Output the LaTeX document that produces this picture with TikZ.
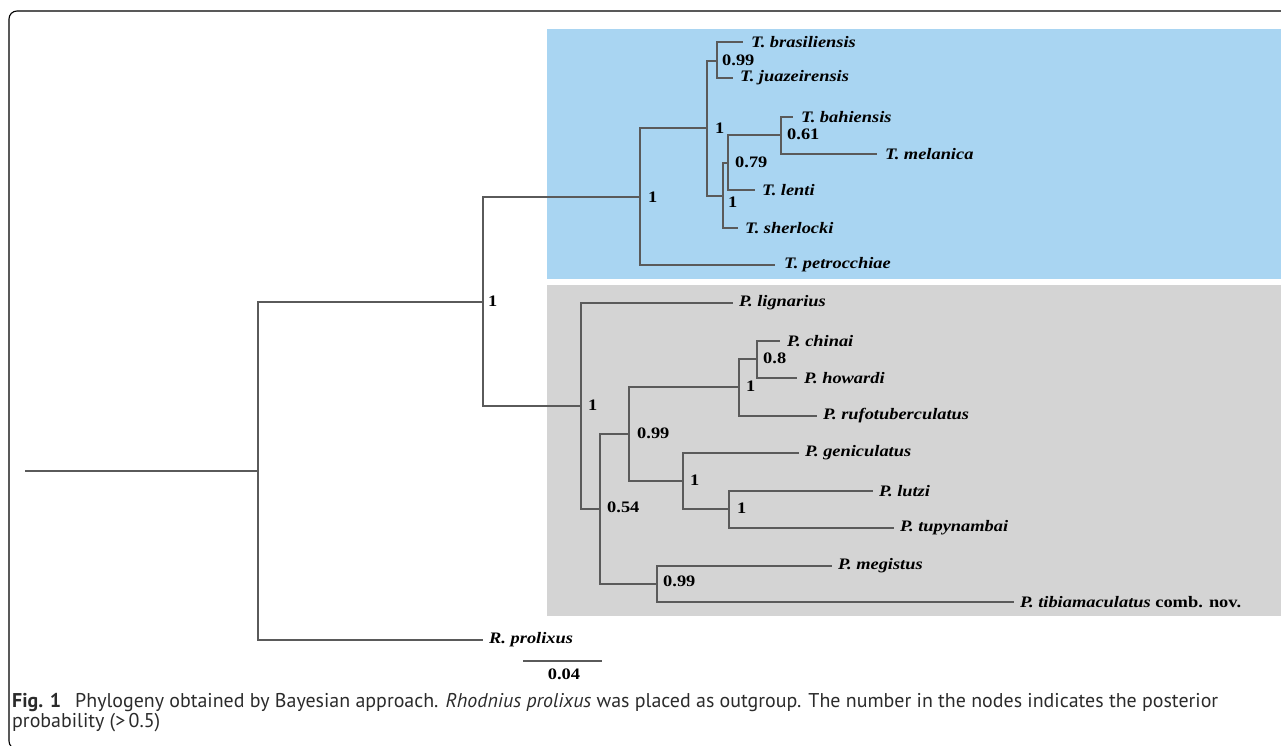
\documentclass[tikz,border=0pt]{standalone}
\usepackage{fontspec}
\setmainfont{Liberation Serif}
\newfontfamily\capfont{PT Sans}
\usepackage{graphicx}
\definecolor{cladeblue}{HTML}{A9D5F2}
\definecolor{cladegray}{HTML}{D4D4D4}
\definecolor{branch}{HTML}{5A5A5A}
\definecolor{captext}{HTML}{2B2B2B}
\newcommand\wide[1]{\scalebox{1.15}[1]{#1}}
\newlength\capw
\newcommand\captextone{\textbf{Fig. 1}\hspace{0.7em}Phylogeny obtained by Bayesian approach. \textit{Rhodnius prolixus} was placed as outgroup. The number in the nodes indicates the posterior}
\tikzset{
  branchline/.style={draw=branch, line width=1.2pt},
  taxon/.style={anchor=west, inner sep=0pt, font=\fontsize{16}{18}\selectfont\bfseries\itshape, text=black},
  support/.style={anchor=west, inner sep=0pt, font=\fontsize{16}{18}\selectfont\bfseries, text=black},
  captionline/.style={anchor=base west, inner sep=0pt, text=captext},
  framebox/.style={draw=black, line width=1.1pt, rounded corners=8pt},
}
\AtBeginDocument{%
  \settowidth\capw{\capfont\fontsize{10}{12}\selectfont\captextone}%
  \pgfmathsetmacro\capsize{10*1206/\capw}%
  \xdef\capsize{\capsize}%
}
\begin{document}
\begin{tikzpicture}[x=1pt,y=-1pt]
\useasboundingbox (0,0) rectangle (1281,745);
\clip (0,0) rectangle (1281,745);

% clade backgrounds
\fill[cladeblue] (547,29) rectangle (1282,279);
\fill[cladegray] (547,285) rectangle (1282,616);

% frame
\draw[framebox] (1285,11) -- (9,11) -- (9,749) -- (30,749);

% internal nodes
\coordinate (root0) at (25,471);
\coordinate (R) at (258,471);
\coordinate (I) at (483,302);
\coordinate (T) at (640,197);
\coordinate (T1) at (707,128);
\coordinate (Tb) at (717,61);
\coordinate (T2) at (723,196);
\coordinate (T3) at (728,163);
\coordinate (T4) at (781,135);
\coordinate (P) at (581,406);
\coordinate (P1) at (600,509);
\coordinate (P2) at (629,434);
\coordinate (P3) at (739,387);
\coordinate (P4) at (757,359);
\coordinate (P5) at (683,481);
\coordinate (P6) at (729,509);
\coordinate (P7) at (657,584);
% tips
\coordinate (bra) at (743,42);
\coordinate (jua) at (733,78);
\coordinate (bah) at (793,117);
\coordinate (mel) at (877,154);
\coordinate (len) at (755,190);
\coordinate (she) at (738,228);
\coordinate (pet) at (775,265);
\coordinate (lig) at (733,303);
\coordinate (chi) at (780,341);
\coordinate (how) at (797,378);
\coordinate (ruf) at (817,416);
\coordinate (gen) at (799,453);
\coordinate (lut) at (873,491);
\coordinate (tup) at (894,528);
\coordinate (meg) at (832,566);
\coordinate (tib) at (1014,602);
\coordinate (pro) at (483,640);

% branches
\draw[branchline] (root0) -- (R);
\draw[branchline] (R) |- (I);
\draw[branchline] (R) |- (pro);
\draw[branchline] (I) |- (T);
\draw[branchline] (I) |- (P);
\draw[branchline] (T) |- (T1);
\draw[branchline] (T) |- (pet);
\draw[branchline] (T1) |- (Tb);
\draw[branchline] (T1) |- (T2);
\draw[branchline] (Tb) |- (bra);
\draw[branchline] (Tb) |- (jua);
\draw[branchline] (T2) |- (T3);
\draw[branchline] (T2) |- (she);
\draw[branchline] (T3) |- (T4);
\draw[branchline] (T3) |- (len);
\draw[branchline] (T4) |- (bah);
\draw[branchline] (T4) |- (mel);
\draw[branchline] (P) |- (lig);
\draw[branchline] (P) |- (P1);
\draw[branchline] (P1) |- (P2);
\draw[branchline] (P1) |- (P7);
\draw[branchline] (P2) |- (P3);
\draw[branchline] (P2) |- (P5);
\draw[branchline] (P3) |- (P4);
\draw[branchline] (P3) |- (ruf);
\draw[branchline] (P4) |- (chi);
\draw[branchline] (P4) |- (how);
\draw[branchline] (P5) |- (gen);
\draw[branchline] (P5) |- (P6);
\draw[branchline] (P6) |- (lut);
\draw[branchline] (P6) |- (tup);
\draw[branchline] (P7) |- (meg);
\draw[branchline] (P7) |- (tib);

% taxon labels
\node[taxon] (lbra) at ([xshift=8pt]bra) {\wide{T. brasiliensis}};
\node[taxon] (ljua) at ([xshift=7pt]jua) {\wide{T. juazeirensis}};
\node[taxon] (lbah) at ([xshift=8pt]bah) {\wide{T. bahiensis}};
\node[taxon] (lmel) at ([xshift=8pt]mel) {\wide{T. melanica}};
\node[taxon] (llen) at ([xshift=7pt]len) {\wide{T. lenti}};
\node[taxon] (lshe) at ([xshift=7pt]she) {\wide{T. sherlocki}};
\node[taxon] (lpet) at ([xshift=9pt]pet) {\wide{T. petrocchiae}};
\node[taxon] (llig) at ([xshift=6pt]lig) {\wide{P. lignarius}};
\node[taxon] (lchi) at ([xshift=7pt]chi) {\wide{P. chinai}};
\node[taxon] (lhow) at ([xshift=7pt]how) {\wide{P. howardi}};
\node[taxon] (lruf) at ([xshift=6pt]ruf) {\wide{P. rufotuberculatus}};
\node[taxon] (lgen) at ([xshift=6pt]gen) {\wide{P. geniculatus}};
\node[taxon] (llut) at ([xshift=6pt]lut) {\wide{P. lutzi}};
\node[taxon] (ltup) at ([xshift=6pt]tup) {\wide{P. tupynambai}};
\node[taxon] (lmeg) at ([xshift=6pt]meg) {\wide{P. megistus}};
\node[taxon] (ltib) at ([xshift=6pt]tib) {\wide{P. tibiamaculatus \upshape comb. nov.}};
\node[taxon] (lpro) at ([xshift=6pt]pro) {\wide{R. prolixus}};

% support values
\node[support] (sI) at (488,301) {\wide{1}};
\node[support] (sT) at (648,197) {\wide{1}};
\node[support] (sT1) at (715,128) {\wide{1}};
\node[support] (sTb) at (722,60) {\wide{0.99}};
\node[support] (sT2) at (728,202) {\wide{1}};
\node[support] (sT3) at (735,162) {\wide{0.79}};
\node[support] (sT4) at (787,134) {\wide{0.61}};
\node[support] (sP) at (588,405) {\wide{1}};
\node[support] (sP1) at (607,507) {\wide{0.54}};
\node[support] (sP2) at (637,433) {\wide{0.99}};
\node[support] (sP3) at (746,386) {\wide{1}};
\node[support] (sP4) at (763,358) {\wide{0.8}};
\node[support] (sP5) at (690,480) {\wide{1}};
\node[support] (sP6) at (737,508) {\wide{1}};
\node[support] (sP7) at (663,581) {\wide{0.99}};

% scale bar
\coordinate (sb1) at (523,661);
\coordinate (sb2) at (602,661);
\draw[branch, line width=1.1pt] (sb1) -- (sb2);
\node[support, anchor=center] (sbl) at (564,674) {\wide{0.04}};

% caption
\node[captionline] (cap1) at (12,707) {\capfont\fontsize{\capsize}{\capsize}\selectfont\captextone};
\node[captionline] (cap2) at (12,727) {\capfont\fontsize{\capsize}{\capsize}\selectfont probability (>\,0.5)};
\end{tikzpicture}
\end{document}
